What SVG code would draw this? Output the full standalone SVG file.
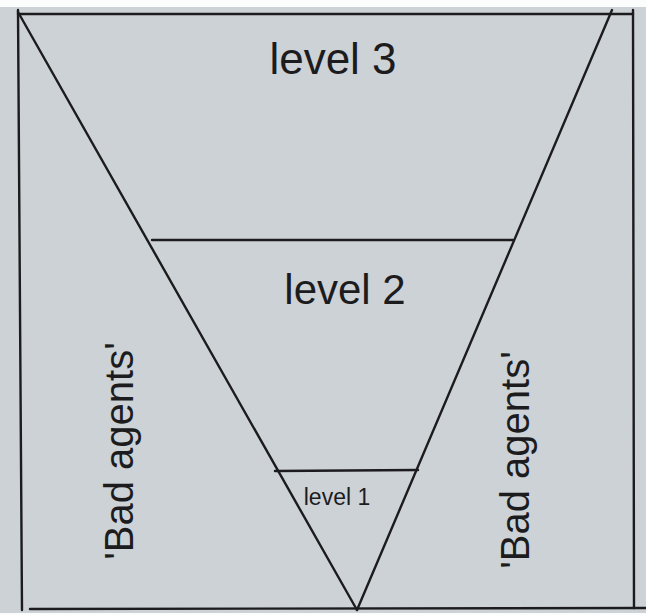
<svg xmlns="http://www.w3.org/2000/svg" width="646" height="615" viewBox="0 0 646 615">
<style>
.ln{stroke:#1c1c1e;stroke-width:2.4;fill:none;stroke-linecap:round}
.t{font-family:"Liberation Sans","DejaVu Sans",sans-serif;fill:#1c1c1e}
</style>
<rect x="0" y="0" width="646" height="615" fill="#fbfcfc"/>
<rect x="0" y="7" width="646" height="606" fill="#cdd2d6"/>
<g id="frame">
<path class="ln" d="M18 14 L633 14"/>
<path class="ln" d="M18 10 L22 610"/>
<path class="ln" d="M633 10 L634 608"/>
<path class="ln" d="M30 609 L646 608"/>
</g>
<g id="connectors">
<path class="ln" d="M18 12 L357 610"/>
<path class="ln" d="M612 10 L357 610"/>
</g>
<g id="level3">
<text class="t" x="333" y="74" font-size="44" text-anchor="middle">level 3</text>
</g>
<g id="level2">
<path class="ln" d="M152 240 L513 240"/>
<text class="t" x="345" y="304" font-size="42" text-anchor="middle">level 2</text>
</g>
<g id="level1">
<path class="ln" d="M275 471 L418 470"/>
<text class="t" x="337" y="505" font-size="23" text-anchor="middle">level 1</text>
</g>
<g id="bad-left">
<text class="t" font-size="40" text-anchor="middle" transform="translate(133 451) rotate(-90)">'Bad agents'</text>
</g>
<g id="bad-right">
<text class="t" font-size="40" text-anchor="middle" transform="translate(529 460) rotate(-90)">'Bad agents'</text>
</g>
</svg>
